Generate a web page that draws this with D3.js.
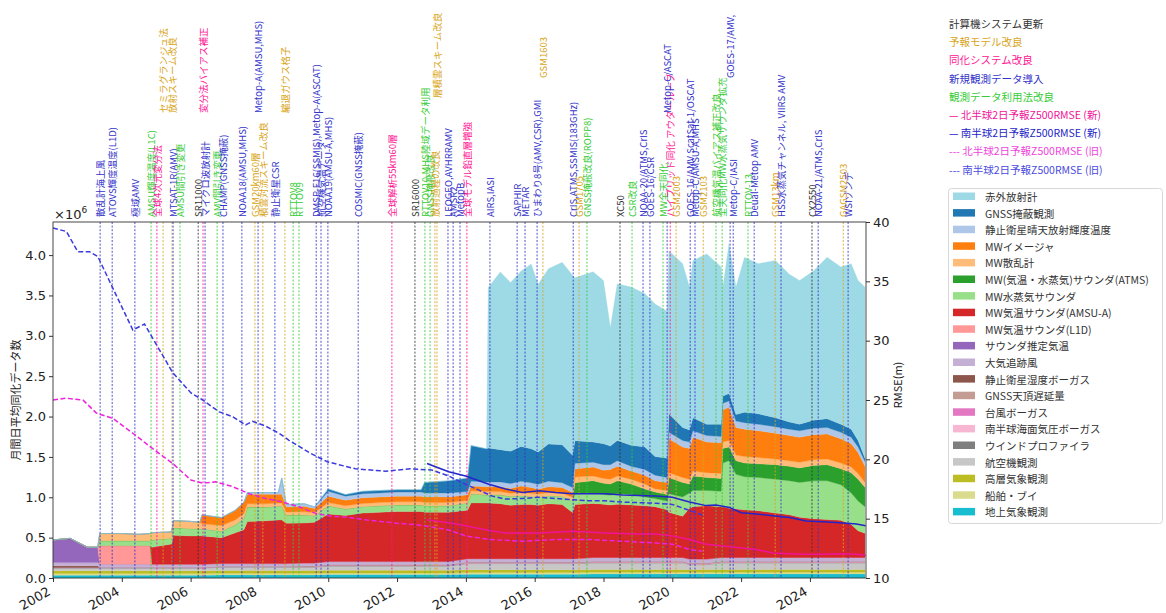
<!DOCTYPE html>
<html><head><meta charset="utf-8">
<script src="https://cdn.jsdelivr.net/npm/d3@7"></script>
<style>
body{margin:0;background:#fff;}
svg{display:block;font-family:"Noto Sans CJK JP","Noto Sans",sans-serif;}
</style></head><body>
<svg id="c" width="1166" height="613"></svg>
<script>
// ---------- data (values in millions) ----------
const dates = [
2002.0,2002.5,2003.0,2003.3,2003.36,2004.0,2004.5,2004.82,2004.88,2005.45,
2005.5,2006.0,2006.27,2006.33,2006.9,2007.3,2007.55,2007.65,2008.2,2008.55,
2008.65,2008.78,2009.3,2009.6,2010.0,2010.5,2011.0,2011.5,2012.0,2012.7,
2012.8,2013.5,2014.05,2014.15,2014.6,2014.65,2015.0,2015.3,2015.6,2015.9,
2016.1,2016.4,2016.8,2017.1,2017.17,2017.7,2018.0,2018.2,2018.4,2018.8,
2019.2,2019.5,2019.85,2019.9,2020.3,2020.5,2020.6,2021.0,2021.42,2021.47,
2021.65,2021.85,2022.1,2022.5,2023.0,2023.4,2023.7,2024.1,2024.5,2024.9,
2025.2,2025.4,2025.6];

const surface = [
.035,.035,.035,.035,.035,.035,.035,.035,.035,.035,
.035,.035,.035,.035,.038,.038,.038,.038,.038,.038,
.038,.038,.038,.038,.042,.042,.042,.042,.042,.042,
.042,.042,.048,.048,.048,.048,.048,.048,.048,.048,
.048,.048,.048,.048,.048,.05,.05,.05,.05,.05,
.05,.05,.05,.05,.05,.05,.05,.05,.05,.05,
.05,.05,.05,.05,.05,.05,.05,.05,.05,.05,
.05,.05,.05];
const ship = [
.02,.02,.02,.02,.02,.02,.02,.02,.02,.02,
.02,.02,.02,.02,.02,.02,.02,.02,.02,.02,
.02,.02,.02,.02,.02,.02,.02,.02,.02,.02,
.02,.02,.02,.02,.02,.02,.02,.02,.02,.02,
.02,.02,.02,.02,.02,.02,.02,.02,.02,.02,
.02,.02,.02,.02,.02,.02,.02,.02,.02,.02,
.02,.02,.02,.02,.02,.02,.02,.02,.02,.02,
.02,.02,.02];
const upperAir = [
.035,.035,.035,.035,.035,.035,.035,.035,.035,.035,
.035,.035,.035,.035,.035,.035,.035,.035,.035,.035,
.035,.035,.035,.035,.035,.035,.035,.035,.035,.035,
.035,.035,.035,.035,.035,.035,.035,.035,.035,.035,
.035,.035,.035,.035,.035,.035,.035,.035,.035,.035,
.035,.035,.035,.035,.035,.035,.035,.035,.035,.035,
.035,.035,.035,.035,.035,.035,.035,.035,.035,.035,
.035,.035,.035];
const aircraft = [
.03,.03,.03,.03,.03,.03,.03,.03,.03,.03,
.03,.03,.03,.03,.04,.04,.04,.04,.04,.04,
.04,.04,.04,.04,.05,.05,.05,.05,.05,.05,
.05,.05,.075,.075,.075,.075,.075,.075,.075,.075,
.075,.075,.075,.075,.075,.08,.08,.08,.08,.08,
.08,.08,.08,.08,.08,.06,.06,.06,.08,.08,
.08,.08,.08,.08,.08,.08,.08,.08,.08,.08,
.08,.08,.08];
const profiler = [
.005,.005,.005,.005,.005,.005,.005,.005,.005,.005,
.005,.005,.005,.005,.005,.005,.005,.005,.005,.005,
.005,.005,.005,.005,.005,.005,.005,.005,.005,.005,
.005,.005,.005,.005,.005,.005,.005,.005,.005,.005,
.005,.005,.005,.005,.005,.005,.005,.005,.005,.005,
.005,.005,.005,.005,.005,.005,.005,.005,.005,.005,
.005,.005,.005,.005,.005,.005,.005,.005,.005,.005,
.005,.005,.005];
const shPsBogus = [
.004,.004,.004,.004,.004,.004,.004,.004,.004,.004,
.004,.004,.004,.004,.004,.004,.004,.004,.004,.004,
.004,.004,.004,.004,.004,.004,.004,.004,.004,.004,
.004,.004,.004,.004,.004,.004,.004,.004,.004,.004,
.004,.004,.004,.004,.004,.004,.004,.004,.004,.004,
.004,.004,.004,.004,.004,.004,.004,.004,.004,.004,
.004,.004,.004,.004,.004,.004,.004,.004,.004,.004,
.004,.004,.004];
const tcBogus = [
.002,.002,.002,.002,.002,.002,.002,.002,.002,.002,
.002,.002,.002,.002,.002,.002,.002,.002,.002,.002,
.002,.002,.002,.002,.002,.002,.002,.002,.002,.002,
.002,.002,.002,.002,.002,.002,.002,.002,.002,.002,
.002,.002,.002,.002,.002,.002,.002,.002,.002,.002,
.002,.002,.002,.002,.002,.002,.002,.002,.002,.002,
.002,.002,.002,.002,.002,.002,.002,.002,.002,.002,
.002,.002,.002];
const gnssZtd = [
0,0,0,0,0,0,0,0,0,0,
0,0,0,0,0,0,0,0,0,0,
0,0,.006,.006,.006,.006,.006,.006,.006,.006,
.006,.006,.006,.006,.006,.006,.006,.006,.006,.006,
.006,.006,.006,.006,.006,.008,.008,.008,.008,.008,
.008,.008,.008,.008,.008,.008,.008,.008,.008,.008,
.008,.008,.008,.008,.008,.008,.008,.008,.008,.008,
.008,.008,.008];
const geoHumBogus = [
.02,.02,.02,.02,0,0,0,0,0,0,
0,0,0,0,0,0,0,0,0,0,
0,0,0,0,0,0,0,0,0,0,
0,0,0,0,0,0,0,0,0,0,
0,0,0,0,0,0,0,0,0,0,
0,0,0,0,0,0,0,0,0,0,
0,0,0,0,0,0,0,0,0,0,
0,0,0];
const amv = [
.04,.04,.04,.04,.04,.04,.04,.04,.04,.04,
.04,.04,.04,.04,.035,.035,.035,.035,.035,.035,
.035,.035,.035,.035,.04,.04,.04,.04,.04,.04,
.04,.04,.045,.045,.045,.045,.045,.045,.045,.045,
.045,.045,.045,.045,.045,.05,.05,.05,.05,.05,
.05,.05,.05,.05,.05,.05,.05,.05,.05,.05,
.05,.05,.05,.05,.05,.05,.05,.05,.05,.05,
.05,.05,.05];
const sounderTemp = [
.28,.30,.19,.19,0,0,0,0,0,0,
0,0,0,0,0,0,0,0,0,0,
0,0,0,0,0,0,0,0,0,0,
0,0,0,0,0,0,0,0,0,0,
0,0,0,0,0,0,0,0,0,0,
0,0,0,0,0,0,0,0,0,0,
0,0,0,0,0,0,0,0,0,0,
0,0,0];
const mwTempL1D = [
0,0,0,0,.23,.23,.23,.23,0,0,
0,0,0,0,0,0,0,0,0,0,
0,0,0,0,0,0,0,0,0,0,
0,0,0,0,0,0,0,0,0,0,
0,0,0,0,0,0,0,0,0,0,
0,0,0,0,0,0,0,0,0,0,
0,0,0,0,0,0,0,0,0,0,
0,0,0];
const mwTempAmsuA = [
0,0,0,0,0,0,0,0,.21,.25,
.36,.35,.35,.35,.32,.38,.42,.52,.53,.54,
.54,.50,.495,.505,.59,.57,.60,.61,.62,.62,
.61,.61,.60,.69,.69,.69,.68,.66,.67,.67,
.66,.68,.67,.57,.67,.67,.66,.65,.66,.65,
.64,.63,.59,.56,.51,.63,.65,.66,.63,.63,
.61,.60,.59,.58,.55,.53,.50,.48,.47,.46,
.41,.33,.30];
const mwHumSounder = [
0,0,0,0,.06,.06,.06,.06,.09,.07,
.09,.09,.09,.09,.08,.10,.14,.18,.17,.17,
.17,.10,.10,.08,.10,.08,.08,.08,.08,.08,
.08,.08,.09,.11,.10,.10,.11,.11,.11,.10,
.10,.10,.10,.15,.13,.13,.12,.12,.13,.13,
.11,.10,.11,.23,.24,.19,.20,.19,.19,.54,
.59,.43,.41,.41,.42,.42,.43,.47,.48,.44,
.39,.37,.33];
const mwAtms = [
0,0,0,0,0,0,0,0,0,0,
0,0,0,0,0,0,0,0,0,0,
0,0,0,0,0,0,0,0,0,0,
0,0,0,0,0,0,0,0,0,0,
0,0,0,0,.14,.15,.14,.14,.16,.13,
.10,.08,.08,.20,.18,.11,.18,.16,.16,.18,
.17,.17,.17,.17,.18,.18,.18,.19,.20,.20,
.25,.27,.24];
const mwScat = [
0,0,0,0,.09,.09,.08,.09,.09,.08,
.09,.09,.08,.06,.07,.06,.06,.04,.04,.04,
.04,.04,.04,.04,.04,.04,.04,.04,.04,.04,
.04,.04,.03,.04,.04,.04,.04,.04,.04,.04,
.04,.04,.04,.04,.07,.06,.06,.06,.06,.06,
.06,.04,.05,.06,.06,.06,.06,.06,.06,.08,
.08,.07,.08,.08,.07,.07,.07,.07,.07,.07,
.07,.07,.06];
const mwImager = [
0,0,0,0,0,0,0,0,0,0,
0,0,0,.11,.10,.12,.14,.12,.12,.11,
.11,.06,.07,.05,.08,.07,.07,.07,.07,.07,
.07,.07,.07,.06,.06,.06,.06,.06,.08,.07,
.06,.07,.07,.06,.10,.11,.10,.12,.12,.10,
.11,.10,.10,.42,.38,.38,.42,.38,.38,.40,
.41,.34,.34,.33,.32,.31,.31,.31,.31,.30,
.29,.26,.20];
const geoCsr = [
0,0,0,0,0,0,0,0,0,0,
0,0,0,0,0,0,0,.02,.02,.02,
.20,.03,.03,.02,.06,.05,.05,.05,.05,.05,
.05,.05,.04,.06,.06,.06,.06,.06,.06,.06,
.06,.07,.06,.06,.07,.06,.07,.06,.07,.06,
.07,.07,.06,.08,.08,.08,.08,.08,.08,.08,
.08,.08,.08,.08,.08,.08,.08,.08,.08,.08,
.08,.07,.06];
const gnssRo = [
0,0,0,0,0,0,0,0,0,0,
0,0,0,0,0,0,0,0,0,0,
0,0,0,0,.03,.02,.03,.03,.03,.03,
.13,.15,.17,.44,.41,.42,.40,.40,.43,.42,
.40,.46,.47,.40,.28,.25,.26,.23,.25,.26,
.28,.23,.24,.23,.16,.15,.16,.14,.15,.09,
.09,.08,.13,.13,.11,.09,.08,.10,.11,.10,
.10,.08,.04];
const irSounder = [
0,0,0,0,0,0,0,0,0,0,
0,0,0,0,0,0,0,0,0,0,
0,0,0,0,0,0,0,0,0,0,
0,0,0,0,0,1.99,2.20,2.09,2.17,2.29,
2.08,2.17,2.26,2.23,2.02,2.11,2.02,1.47,1.94,1.96,
1.90,1.89,1.82,2.02,2.03,1.77,1.95,2.11,1.95,1.35,
1.86,1.58,1.92,1.86,1.95,1.83,1.78,1.85,2.00,1.95,
2.05,1.98,2.12];

// category names (legend order, top to bottom)
const categories = ["赤外放射計","GNSS掩蔽観測","静止衛星晴天放射輝度温度","MWイメージャ","MW散乱計",
 "MW(気温・水蒸気)サウンダ(ATMS)","MW水蒸気サウンダ","MW気温サウンダ(AMSU-A)","MW気温サウンダ(L1D)",
 "サウンダ推定気温","大気追跡風","静止衛星湿度ボーガス","GNSS天頂遅延量","台風ボーガス",
 "南半球海面気圧ボーガス","ウインドプロファイラ","航空機観測","高層気象観測","船舶・ブイ","地上気象観測"];
const categoryValues = [irSounder,gnssRo,geoCsr,mwImager,mwScat,mwAtms,mwHumSounder,mwTempAmsuA,mwTempL1D,
 sounderTemp,amv,geoHumBogus,gnssZtd,tcBogus,shPsBogus,profiler,aircraft,upperAir,ship,surface];

// RMSE lines (m)
const nhOldDates = [2002.0,2002.39,2002.87,2003.26,2003.74,2004.32,2004.9,2005.48,2006.01,2006.35,2006.73,2007.22,2007.7,2008.18,2008.67,2009.15,2009.63,2010.1,2010.6,2011.08,2011.57,2012.05,2012.53,2013.01,2013.5,2013.99,2014.67,2015.64,2016.61,2017.58,2018.55,2019.52,2020.0,2020.5,2020.88];
const nhOld = [25.0,25.15,25.0,23.9,23.45,22.2,20.9,19.65,18.25,18.0,18.1,17.7,17.1,16.7,16.4,16.0,15.45,15.2,15.1,14.9,14.75,14.6,14.5,14.3,14.05,13.55,13.25,13.1,13.25,13.25,13.1,12.95,12.85,12.4,12.25];
const shOldDates = [2002.0,2002.39,2002.72,2003.06,2003.3,2004.32,2004.66,2005.48,2006.01,2006.35,2006.83,2007.22,2007.6,2007.8,2008.18,2008.57,2008.86,2009.49,2009.97,2010.79,2011.66,2012.39,2013.01,2013.5,2013.99,2014.38,2014.77,2015.15,2015.64,2016.13,2016.61,2017.1,2017.58,2018.07,2018.55,2019.04,2019.52,2020.0,2020.4,2020.69,2020.88];
const shOld = [39.5,39.2,37.5,37.5,37.1,30.9,31.4,27.3,25.6,25.0,24.0,23.6,22.9,23.2,22.8,22.2,21.6,20.5,19.8,19.2,19.0,19.2,19.1,18.6,17.9,17.4,16.9,16.65,16.7,16.8,16.7,16.6,16.5,16.5,16.4,16.35,16.3,16.2,15.8,15.5,15.3];
const nhNewDates = [2012.87,2013.5,2013.99,2014.67,2015.15,2016.13,2017.1,2018.07,2019.04,2019.52,2020.0,2020.5,2020.98,2021.47,2021.95,2022.44,2022.92,2023.41,2023.89,2024.38,2024.86,2025.35,2025.62];
const nhNew = [14.9,14.65,14.4,14.0,13.8,13.8,13.95,13.8,13.7,13.7,13.55,13.25,12.85,12.7,12.55,12.4,12.1,12.05,12.0,12.0,12.05,12.0,11.9];
const shNewDates = [2012.87,2013.5,2013.99,2014.67,2015.15,2015.64,2016.13,2016.61,2017.1,2017.58,2018.07,2018.55,2019.04,2019.52,2020.0,2020.5,2020.98,2021.27,2021.66,2022.0,2022.44,2022.92,2023.41,2023.89,2024.38,2024.86,2025.35,2025.62];
const shNew = [19.65,18.95,18.6,17.9,17.5,17.2,17.35,17.2,17.1,17.1,17.1,17.0,16.95,16.9,16.8,16.4,16.1,16.15,15.95,15.5,15.4,15.25,15.1,14.8,14.75,14.65,14.55,14.4];

// events: date, type, text
const eventDates = [2003.37,2003.72,2004.38,2004.85,2005.02,2005.20,2005.46,2005.49,2005.69,2006.22,
 2006.42,2006.36,2006.77,2006.94,2007.49,2007.87,2007.96,2008.10,2008.45,2008.74,
 2008.98,2009.15,2009.65,2009.79,2009.99,2010.87,2011.85,2012.52,2012.81,2012.96,
 2013.10,2013.16,2013.48,2013.63,2013.83,2014.03,2014.70,2015.49,2015.72,2016.07,
 2016.24,2017.12,2017.29,2017.52,2018.48,2018.83,2019.15,2019.35,2019.73,2019.94,
 2020.11,2019.85,2020.52,2020.66,2020.90,2021.27,2021.45,2021.68,2021.77,2022.20,
 2022.38,2022.99,2023.16,2024.06,2024.24,2024.97,2025.11];
const eventTypes = ["new","new","new","use","assim","model","model","new","use","sys",
 "new","assim","use","new","new","model","new","model","new","model",
 "use","use","new","new","new","new","assim","sys","use","use",
 "model","model","new","new","new","assim","new","new","new","new",
 "model","new","model","use","sys","use","new","new","use","assim",
 "model","new","new","new","model","use","use","new","new","use",
 "new","model","new","sys","new","model","new"];
const eventTexts = ["散乱計海上風","ATOVS輝度温度(L1D)","極域AMV","AMSU輝度温度(L1C)","全球4次元変分法","セミラグランジュ法","放射スキーム改良","MTSAT-1R(AMV)","AMSU間引き変更","SR11000",
 "マイクロ波放射計","変分法バイアス補正","AMV間引き変更","CHAMP(GNSS掩蔽)","NOAA18(AMSU,MHS)","GSM20km60層","Metop-A(AMSU,MHS)","積雲対流スキーム改良","静止衛星CSR","縮退ガウス格子",
 "RTTOV8","RTTOV9","DMSP-F16(SSMIS),Metop-A(ASCAT)","航空機気温データ","NOAA19(AMSU-A,MHS)","COSMIC(GNSS掩蔽)","全球解析55km60層","SR16000","RTTOV10,MHS陸域データ利用","GNSS掩蔽改良",
 "放射過程の改良","層積雲スキーム改良","LEOGEO,AVHRRAMV","AMSR2","MetopB","全球モデル鉛直層増強","AIRS,IASI","SAPHIR","METAR","ひまわり8号(AMV,CSR),GMI",
 "GSM1603","CrIS,ATMS,SSMIS(183GHz)","GSM1705","GNSS掩蔽改良(ROPP8)","XC50","CSR改良","NOAA-20/ATMS,CrIS","GOES-16/CSR","MW全天同化","ハイブリッド同化 アウターループ",
 "GSM2003","Metop-C/ASCAT","GOES-16/AMV ScatSat-1/OSCAT","Metop-C/AMSU-A,MHS","GSM2103","航空機気温バイアス補正改良","全天同化MW水蒸気サウンダ拡充","GOES-17/AMV,","Metop-C/IASI","RTTOV-13",
 "Deual-Metop AMV","GSM13km","HSS水蒸気チャンネル, VIIRS AMV","CX2550","NOAA-21/ATMS,CrIS","GAGSM2503","WSIゾンデ"];
// label stacking row (0 = just above the frame)
const eventRows = [0,0,0,0,0,1,1,0,0,0, 0,1,0,0,0,0,1,0,0,1, 0,0,0,0,0,0,0,0,0,0,
 0,2,0,0,0,0,0,0,0,0, 3,0,0,0,0,0,0,0,0,0, 0,1,0,0,0,0,0,3,0,0, 0,0,0,0,0,0,0];

const typeNames = ["計算機システム更新","予報モデル改良","同化システム改良","新規観測データ導入","観測データ利用法改良"];
const typeKeys = ["sys","model","assim","new","use"];
const lineNames = ["— 北半球2日予報Z500RMSE (新)","— 南半球2日予報Z500RMSE (新)","--- 北半球2日予報Z500RMSE (旧)","--- 南半球2日予報Z500RMSE (旧)"];
const leftTicks = [0,0.5,1.0,1.5,2.0,2.5,3.0,3.5,4.0];
const rightTicks = [10,15,20,25,30,35,40];
const yearTicks = [2002,2004,2006,2008,2010,2012,2014,2016,2018,2020,2022,2024];

// ---------- styles ----------
const catColors = ["#9edae5","#1f77b4","#aec7e8","#ff7f0e","#ffbb78","#2ca02c","#98df8a","#d62728","#ff9896",
 "#9467bd","#c5b0d5","#8c564b","#c49c94","#e377c2","#f7b6d2","#7f7f7f","#c7c7c7","#bcbd22","#dbdb8d","#17becf"];
const typeColor = {sys:"#333333", model:"#d9a520", assim:"#ff1493", new:"#3434c8", use:"#38cc38"};
const rowBase = [217, 113, 98, 78];

// ---------- drawing ----------
const svg = d3.select("#c");
const L = 53, R = 866, T = 222, B = 578;
const x = d3.scaleLinear().domain([2002, 2025.63]).range([L, R]);
const yL = d3.scaleLinear().domain([0, 4.41]).range([B, T]);
const yR = d3.scaleLinear().domain([10, 40]).range([B, T]);

svg.append("defs").append("clipPath").attr("id","pc")
  .append("rect").attr("x",L).attr("y",T).attr("width",R-L).attr("height",B-T);

const stackKeys = categories.slice().reverse();
const stackVals = categoryValues.slice().reverse();
const stackCols = catColors.slice().reverse();
const rows = dates.map((d,i)=>{const r={date:d}; stackKeys.forEach((k,j)=>r[k]=stackVals[j][i]); return r;});
const layers = d3.stack().keys(stackKeys)(rows);
const area = d3.area().x(d=>x(d.data.date)).y0(d=>yL(d[0])).y1(d=>yL(d[1]));
const gA = svg.append("g").attr("clip-path","url(#pc)");
gA.selectAll("path").data(layers).join("path")
  .attr("d",area).attr("fill",(d,i)=>stackCols[i]).attr("stroke",(d,i)=>stackCols[i]).attr("stroke-width",0.3);

// event lines
const gE = svg.append("g");
eventDates.forEach((d,i)=>{
  gE.append("line").attr("x1",x(d)).attr("x2",x(d)).attr("y1",T).attr("y2",B)
    .attr("stroke",typeColor[eventTypes[i]]).attr("stroke-width",1).attr("stroke-dasharray","2,1.6").attr("opacity",0.85);
});
// event labels
eventDates.forEach((d,i)=>{
  const xx = x(d), yy = rowBase[eventRows[i]];
  gE.append("text").attr("transform",`translate(${xx},${yy}) rotate(-90)`)
    .attr("text-anchor","start").attr("dominant-baseline","central")
    .attr("font-size","9.5px").attr("fill",typeColor[eventTypes[i]]).text(eventTexts[i]);
});

// RMSE lines
const line = d3.line().x(d=>x(d[0])).y(d=>yR(d[1]));
const gL = svg.append("g").attr("clip-path","url(#pc)");
const lineSets = [
  {d:nhOldDates, v:nhOld, c:"#ee22dd", dash:"5,2.5"},
  {d:shOldDates, v:shOld, c:"#3a3ae0", dash:"5,2.5"},
  {d:nhNewDates, v:nhNew, c:"#f0139a", dash:null},
  {d:shNewDates, v:shNew, c:"#2424c8", dash:null}];
lineSets.forEach(s=>{
  gL.append("path").datum(s.d.map((dd,i)=>[dd,s.v[i]])).attr("d",line).attr("fill","none")
    .attr("stroke",s.c).attr("stroke-width",1.5).attr("stroke-dasharray",s.dash);
});

// frame
svg.append("rect").attr("x",L).attr("y",T).attr("width",R-L).attr("height",B-T)
  .attr("fill","none").attr("stroke","#333").attr("stroke-width",0.9);

// axes
const tickFont = "DejaVu Sans, sans-serif";
const ax1 = svg.append("g").attr("transform",`translate(${L},0)`)
  .call(d3.axisLeft(yL).tickValues(leftTicks).tickFormat(d3.format(".1f")).tickSize(4).tickPadding(3));
const ax2 = svg.append("g").attr("transform",`translate(${R},0)`)
  .call(d3.axisRight(yR).tickValues(rightTicks).tickSize(4).tickPadding(3));
const ax3 = svg.append("g").attr("transform",`translate(0,${B})`)
  .call(d3.axisBottom(x).tickValues(yearTicks).tickFormat(d3.format("d")).tickSize(4));
[ax1,ax2,ax3].forEach(a=>{a.select(".domain").remove();
  a.selectAll("text").attr("font-family",tickFont).attr("font-size","13px").attr("fill","#222");
  a.selectAll("line").attr("stroke","#333");});
ax3.selectAll("text").attr("y",0).attr("dy",0).attr("text-anchor","end")
  .attr("transform","translate(-2,16) rotate(-30)");

svg.append("text").attr("x",54).attr("y",219).attr("font-family",tickFont).attr("font-size","13px").attr("fill","#222")
  .text("×10").append("tspan").attr("dy",-6).attr("font-size","9px").text("6");
svg.append("text").attr("transform","translate(20,400) rotate(-90)").attr("text-anchor","middle")
  .attr("font-size","11px").attr("fill","#222").text("月間日平均同化データ数");
svg.append("text").attr("transform","translate(902,385) rotate(-90)").attr("text-anchor","middle")
  .attr("font-size","11px").attr("fill","#222").text("RMSE(m)");

// top legend (text only)
const gT = svg.append("g").attr("font-size","10.5px");
typeNames.forEach((t,i)=>{
  gT.append("text").attr("x",949).attr("y",28+i*18.2).attr("fill",typeColor[typeKeys[i]]).text(t);
});
const lineLegCols = ["#f0139a","#2424c8","#ee44dd","#4a4ae0"];
lineNames.forEach((t,i)=>{
  gT.append("text").attr("x",949).attr("y",119+i*18.2).attr("fill",lineLegCols[i]).text(t);
});

// bottom legend
const gB = svg.append("g");
gB.append("rect").attr("x",948.5).attr("y",188.5).attr("width",214).attr("height",335).attr("rx",3)
  .attr("fill","#fff").attr("stroke","#d8d8d8");
categories.forEach((c,i)=>{
  const yy = 196.5 + i*16.6;
  gB.append("rect").attr("x",953).attr("y",yy-4).attr("width",22).attr("height",7.5).attr("fill",catColors[i]);
  gB.append("text").attr("x",985).attr("y",yy).attr("dominant-baseline","central")
    .attr("font-size","10.5px").attr("fill","#333").text(c);
});
</script></body></html>
